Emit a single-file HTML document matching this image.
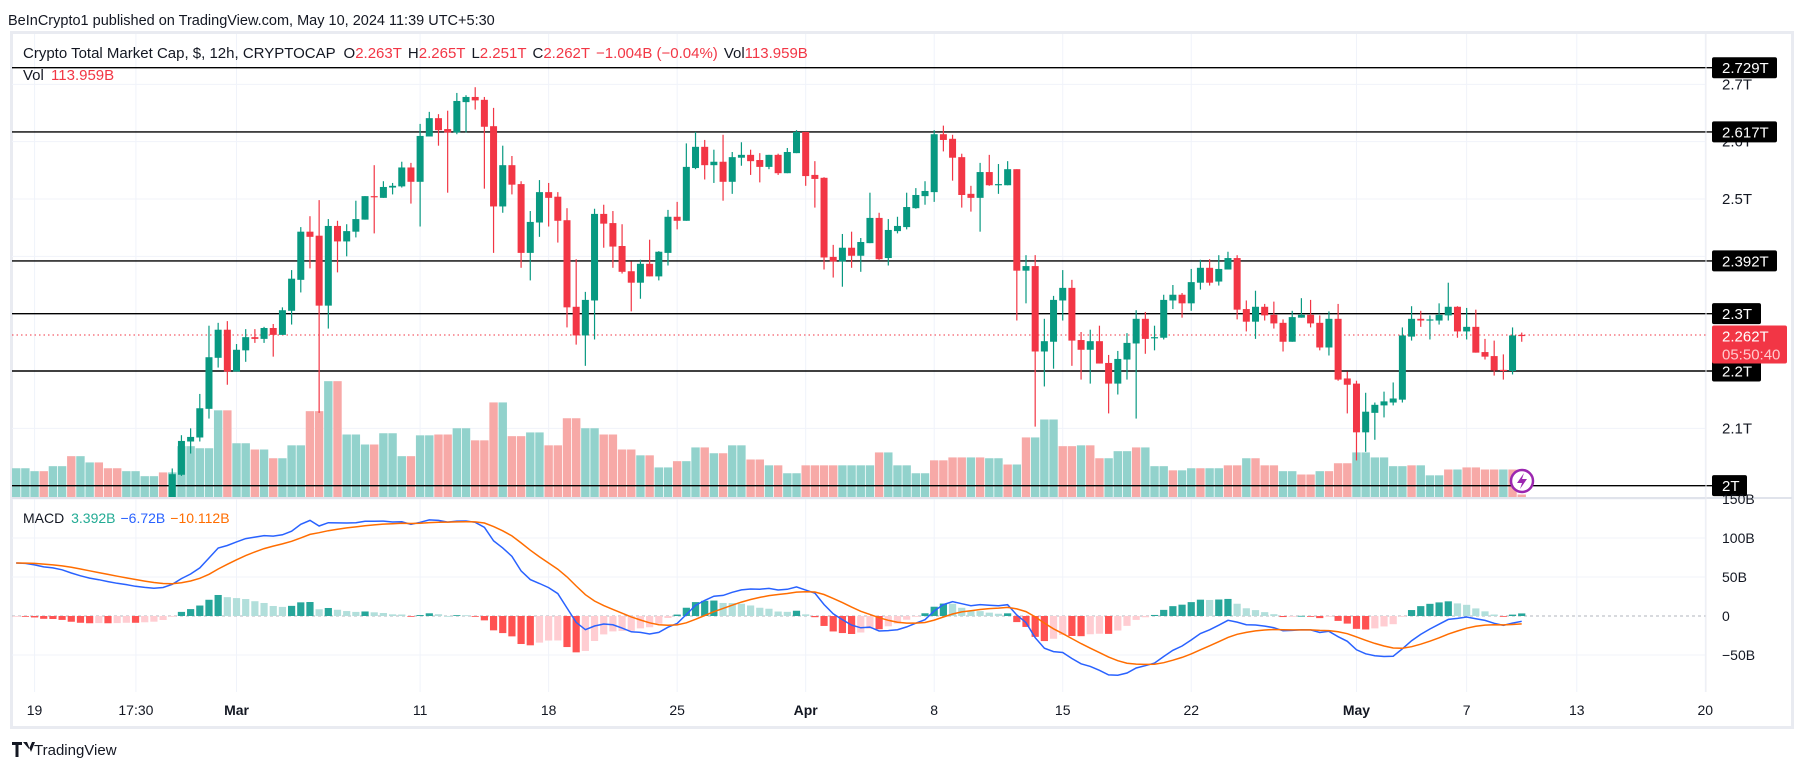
<!DOCTYPE html>
<html><head><meta charset="utf-8"><style>
html,body{margin:0;padding:0;background:#fff;}
svg{display:block;font-family:"Liberation Sans",sans-serif;}
</style></head><body>
<svg id="chart" width="1805" height="771" viewBox="0 0 1805 771" xmlns="http://www.w3.org/2000/svg">
<defs>
<clipPath id="pricePane"><rect x="12" y="34" width="1694" height="463"/></clipPath>
<clipPath id="macdPane"><rect x="12" y="499" width="1694" height="193"/></clipPath>
</defs>
<text x="8" y="25" font-size="14.5" fill="#131722">BeInCrypto1 published on TradingView.com, May 10, 2024 11:39 UTC+5:30</text>
<rect x="11.5" y="32.5" width="1781" height="695" fill="#fff" stroke="#e9ebf1" stroke-width="3"/>
<g id="grid"></g>
<g id="volume" clip-path="url(#pricePane)"></g>
<g id="levels"></g>
<line x1="12" x2="1706" y1="335" y2="335" stroke="#f23645" stroke-width="1" stroke-dasharray="1.5,3"/>
<g id="candles" clip-path="url(#pricePane)"></g>
<g id="macd" clip-path="url(#macdPane)"></g>
<line x1="12" x2="1792" y1="498" y2="498" stroke="#e0e3eb" stroke-width="2"/>
<line x1="1706" x2="1706" y1="34" y2="692" stroke="#eceef2" stroke-width="1"/>
<g id="axis"></g>
<g id="time"></g>
<text x="23" y="58" font-size="15" fill="#131722">Crypto Total Market Cap, $, 12h, CRYPTOCAP <tspan dx="4">O</tspan><tspan fill="#f23645">2.263T</tspan><tspan dx="6">H</tspan><tspan fill="#f23645">2.265T</tspan><tspan dx="6">L</tspan><tspan fill="#f23645">2.251T</tspan><tspan dx="6">C</tspan><tspan fill="#f23645">2.262T</tspan><tspan dx="6" fill="#f23645">−1.004B (−0.04%)</tspan><tspan dx="6">Vol</tspan><tspan fill="#f23645">113.959B</tspan></text>
<text x="23" y="80" font-size="15" fill="#131722">Vol <tspan fill="#f23645" dx="3">113.959B</tspan></text>
<text x="23" y="523" font-size="14" fill="#131722">MACD <tspan fill="#22ab94" dx="3">3.392B</tspan><tspan fill="#2962ff" dx="5">−6.72B</tspan><tspan fill="#ff6d00" dx="5">−10.112B</tspan></text>
<g><circle cx="1522" cy="481" r="11" fill="#fff" stroke="#9c27b0" stroke-width="2.5"/><path d="M1524 473 L1517 483 L1522 483 L1520 489 L1527 479 L1522 479 Z" fill="#9c27b0"/></g>
<g><path d="M12 742 h10 v3 h-3.5 v12 h-3 v-12 h-3.5 Z M23 742 h4 l4 10 l4-10 h-3 l-3 7 Z" fill="#131722"/><text x="34" y="755" font-size="15" fill="#131722">TradingView</text></g>
</svg>
<script>
const openP=[1.925,1.93,1.935,1.925,1.92,1.94,1.93,1.91,1.915,1.92,1.93,1.925,1.93,1.935,1.93,1.94,1.945,1.972,2.019,2.077,2.084,2.134,2.223,2.272,2.199,2.236,2.259,2.256,2.275,2.263,2.305,2.359,2.443,2.436,2.314,2.453,2.426,2.443,2.464,2.505,2.502,2.520,2.522,2.555,2.530,2.609,2.641,2.622,2.616,2.669,2.678,2.673,2.627,2.487,2.559,2.526,2.406,2.459,2.512,2.504,2.463,2.312,2.262,2.323,2.474,2.458,2.418,2.374,2.354,2.387,2.365,2.406,2.469,2.462,2.554,2.591,2.559,2.565,2.530,2.572,2.577,2.568,2.556,2.577,2.545,2.580,2.617,2.542,2.537,2.399,2.391,2.415,2.401,2.423,2.467,2.397,2.444,2.451,2.484,2.505,2.512,2.613,2.605,2.573,2.509,2.502,2.547,2.525,2.524,2.552,2.375,2.383,2.234,2.251,2.323,2.345,2.254,2.237,2.252,2.214,2.178,2.220,2.248,2.291,2.258,2.258,2.323,2.333,2.318,2.354,2.380,2.356,2.377,2.397,2.308,2.286,2.312,2.298,2.284,2.251,2.293,2.298,2.284,2.241,2.291,2.187,2.178,2.093,2.127,2.140,2.145,2.150,2.260,2.291,2.288,2.288,2.297,2.312,2.269,2.277,2.233,2.226,2.202,2.200,2.263];
const highP=[1.94,1.945,1.94,1.93,1.95,1.945,1.935,1.925,1.93,1.94,1.935,1.94,1.945,1.94,1.95,1.955,1.975,2.030,2.088,2.100,2.160,2.279,2.284,2.287,2.247,2.273,2.273,2.277,2.282,2.311,2.376,2.451,2.470,2.498,2.465,2.462,2.456,2.497,2.505,2.559,2.531,2.528,2.565,2.563,2.631,2.652,2.648,2.654,2.685,2.681,2.695,2.678,2.659,2.593,2.575,2.531,2.479,2.533,2.528,2.512,2.484,2.395,2.338,2.483,2.490,2.479,2.456,2.391,2.394,2.429,2.409,2.481,2.495,2.597,2.617,2.603,2.586,2.612,2.582,2.599,2.586,2.580,2.577,2.579,2.589,2.620,2.617,2.566,2.538,2.420,2.439,2.443,2.432,2.511,2.476,2.465,2.469,2.511,2.519,2.531,2.620,2.628,2.612,2.579,2.523,2.563,2.577,2.561,2.566,2.552,2.402,2.402,2.291,2.331,2.376,2.359,2.268,2.272,2.279,2.228,2.235,2.266,2.306,2.303,2.279,2.333,2.350,2.336,2.378,2.394,2.395,2.402,2.408,2.402,2.323,2.340,2.317,2.321,2.290,2.305,2.327,2.324,2.297,2.304,2.317,2.199,2.183,2.162,2.145,2.164,2.180,2.276,2.313,2.305,2.297,2.318,2.354,2.313,2.310,2.307,2.256,2.253,2.229,2.276,2.267];
const lowP=[1.92,1.925,1.915,1.91,1.915,1.925,1.905,1.90,1.91,1.915,1.92,1.92,1.925,1.92,1.925,1.935,1.94,1.969,2.017,2.056,2.077,2.117,2.206,2.176,2.199,2.216,2.249,2.249,2.225,2.263,2.281,2.337,2.379,2.127,2.274,2.372,2.400,2.433,2.464,2.440,2.502,2.508,2.520,2.492,2.452,2.609,2.593,2.511,2.613,2.616,2.656,2.518,2.406,2.476,2.508,2.380,2.358,2.434,2.452,2.424,2.276,2.246,2.209,2.255,2.415,2.380,2.370,2.304,2.326,2.365,2.358,2.384,2.447,2.462,2.552,2.534,2.528,2.497,2.509,2.558,2.542,2.529,2.552,2.542,2.545,2.580,2.523,2.485,2.377,2.363,2.347,2.380,2.373,2.423,2.394,2.384,2.440,2.447,2.483,2.490,2.495,2.583,2.532,2.485,2.478,2.443,2.523,2.509,2.524,2.288,2.318,2.103,2.173,2.204,2.288,2.209,2.185,2.178,2.213,2.126,2.159,2.185,2.117,2.230,2.236,2.255,2.308,2.293,2.305,2.342,2.349,2.349,2.377,2.290,2.269,2.256,2.288,2.274,2.234,2.251,2.293,2.276,2.236,2.227,2.183,2.126,2.044,2.059,2.080,2.119,2.140,2.145,2.253,2.277,2.255,2.281,2.288,2.258,2.255,2.232,2.220,2.192,2.185,2.194,2.251];
const closeP=[1.93,1.935,1.925,1.92,1.94,1.93,1.91,1.915,1.92,1.93,1.925,1.93,1.935,1.93,1.94,1.945,1.972,2.020,2.078,2.085,2.135,2.224,2.272,2.199,2.237,2.259,2.256,2.275,2.263,2.306,2.361,2.443,2.434,2.314,2.453,2.426,2.444,2.465,2.505,2.504,2.521,2.523,2.555,2.530,2.610,2.641,2.620,2.616,2.671,2.678,2.672,2.626,2.487,2.559,2.525,2.406,2.460,2.512,2.502,2.462,2.311,2.262,2.324,2.474,2.457,2.417,2.373,2.354,2.387,2.365,2.408,2.469,2.462,2.556,2.591,2.559,2.565,2.530,2.573,2.577,2.566,2.556,2.577,2.545,2.582,2.617,2.540,2.535,2.398,2.391,2.415,2.401,2.425,2.467,2.395,2.446,2.453,2.486,2.507,2.514,2.613,2.603,2.572,2.507,2.502,2.547,2.524,2.526,2.552,2.375,2.383,2.234,2.252,2.324,2.345,2.253,2.237,2.252,2.213,2.178,2.221,2.249,2.291,2.256,2.259,2.324,2.333,2.318,2.355,2.380,2.354,2.378,2.397,2.307,2.286,2.312,2.297,2.283,2.251,2.294,2.298,2.283,2.241,2.291,2.185,2.176,2.093,2.129,2.141,2.147,2.152,2.262,2.291,2.288,2.290,2.298,2.312,2.269,2.277,2.232,2.225,2.201,2.201,2.262,2.262];
const volumeB=[69,69,62,62,74,74,98,98,83,83,69,69,62,62,50,50,59,59,122,122,117,117,208,208,129,129,114,114,93,93,124,124,206,206,278,278,150,150,126,126,153,153,98,98,148,148,150,150,165,165,136,136,227,227,146,146,155,155,124,124,189,189,165,165,150,150,114,114,100,100,71,71,86,86,119,119,105,105,124,124,90,90,76,76,57,57,76,76,76,76,76,76,76,76,107,107,76,76,57,57,88,88,95,95,95,95,93,93,78,78,143,143,186,186,122,122,124,124,93,93,110,110,119,119,74,74,64,64,69,69,69,69,76,76,93,93,76,76,62,62,54,54,62,62,81,81,107,107,95,95,74,74,76,76,52,52,66,66,71,71,66,66,66,66,6];
const volumeDir="gggrggrggrrrggggrggggggrggrgrgggrrgrgggrgggrggrrggrrrgrrggrrrrggrrrrgrggrggrgrggrrgrggrrrrggggrgggggrrrrgrggrgrgggrrgrrgggrgggrggrggrrgrrrggrrgrrrggggggrgggrgrrrrgr".split("");
const levelValues=[2.729,2.617,2.392,2.3,2.2,2.0];
const levelLabels=["2.729T","2.617T","2.392T","2.3T","2.2T","2T"];
const priceTicks=[2.1,2.2,2.3,2.4,2.5,2.6,2.7];
const priceTickLabels=["2.1T","2.2T","2.3T","2.4T","2.5T","2.6T","2.7T"];
const macdTicks=[150,100,50,0,-50];
const macdTickLabels=["150B","100B","50B","0","−50B"];
const timeTickDays=[1,6.52,12,22,29,36,43,50,57,64,73,79,85,92];
const timeTickLabels=["19","17:30","Mar","11","18","25","Apr","8","15","22","May","7","13","20"];
const timeTickBold=[0,0,1,0,0,0,1,0,0,0,1,0,0,0];
const macdSeed={ema12:1.868,ema26:1.80,signal:0.068};

const NS="http://www.w3.org/2000/svg";
function mk(tag,attrs,parent){const e=document.createElementNS(NS,tag);for(const k in attrs)e.setAttribute(k,attrs[k]);parent.appendChild(e);return e;}
const xDay=d=>16.2+d*18.36;
const xIdx=i=>xDay(i/2);
const yP=p=>199+(2.5-p)*573.3;
const yV=v=>497-v/2.4;
const yM=b=>616-b*0.78;
const G=id=>document.getElementById(id);

const grid=G("grid");
priceTicks.forEach(p=>{const l=mk("line",{x1:12,x2:1706,y1:yP(p),y2:yP(p),stroke:"#f0f3fa","stroke-width":1},grid);

});
macdTicks.forEach(b=>{if(b===0)return;const l=mk("line",{x1:12,x2:1706,y1:yM(b),y2:yM(b),stroke:"#f0f3fa","stroke-width":1},grid);

});
timeTickDays.forEach(d=>{const l=mk("line",{x1:xDay(d),x2:xDay(d),y1:34,y2:692,stroke:"#f0f3fa","stroke-width":1},grid);

});

const vg=G("volume");
volumeB.forEach((v,i)=>{const r=mk("rect",{x:xIdx(i)-4.2,y:yV(v),width:8.4,height:497-yV(v),fill:volumeDir[i]==="g"?"#92d2cc":"#f7a9a7"},vg);

});

const cg=G("candles");
closeP.forEach((c,i)=>{const o=openP[i],up=c>=o,col=up?"#089981":"#f23645",x=xIdx(i);
const w=mk("line",{x1:x,x2:x,y1:yP(highP[i]),y2:yP(lowP[i]),stroke:col,"stroke-width":1.2},cg);


const top=yP(Math.max(o,c)),bot=yP(Math.min(o,c));
const b=mk("rect",{x:x-3.5,y:top,width:7,height:Math.max(1.2,bot-top),fill:col},cg);

});

const lg=G("levels"),ax=G("axis");
priceTicks.forEach((p,k)=>{const t=mk("text",{x:1722,y:yP(p)+5,"font-size":15,fill:"#131722"},ax);t.textContent=priceTickLabels[k];

});
levelValues.forEach((p,k)=>{const y=yP(p);
const l=mk("line",{x1:12,x2:1712,y1:y,y2:y,stroke:"#000","stroke-width":1.4},lg);


const w=levelLabels[k].length>4?65:(levelLabels[k].length>2?49:35);
const r=mk("rect",{x:1712,y:y-10.5,width:w,height:21,rx:2,fill:"#000"},ax);


const t=mk("text",{x:1722,y:y+5.5,"font-size":15,fill:"#fff"},ax);t.textContent=levelLabels[k];

});
const lastIdx=closeP.length-1;
const lp=closeP[lastIdx],ly=yP(lp);
const pr=mk("rect",{x:1712,y:ly-10,width:75,height:38,rx:2,fill:"#f23645"},ax);


const pt=mk("text",{x:1722,y:ly+6,"font-size":15,fill:"#fff"},ax);pt.textContent=lp.toFixed(3)+"T";


const ct=mk("text",{x:1722,y:ly+24,"font-size":15,fill:"#ffc9cd"},ax);ct.textContent="05:50:40";


macdTicks.forEach((b,k)=>{const t=mk("text",{x:1722,y:yM(b)+5,"font-size":14,fill:"#131722"},ax);t.textContent=macdTickLabels[k];

});

const tg=G("time");
timeTickDays.forEach((d,k)=>{const t=mk("text",{x:xDay(d),y:715,"font-size":14,fill:"#131722","text-anchor":"middle","font-weight":timeTickBold[k]?"bold":"normal"},tg);t.textContent=timeTickLabels[k];

});

const mg=G("macd");
let e12=macdSeed.ema12,e26=macdSeed.ema26,sig=macdSeed.signal;
const macdLine=[],sigLine=[],hist=[];
closeP.forEach(c=>{e12+=(c-e12)*2/13;e26+=(c-e26)*2/27;const m=e12-e26;sig+=(m-sig)*2/10;macdLine.push(m*1000);sigLine.push(sig*1000);hist.push((m-sig)*1000);});
const z=mk("line",{x1:12,x2:1706,y1:yM(0),y2:yM(0),stroke:"#b2b5be","stroke-width":1,"stroke-dasharray":"3,3"},mg);


hist.forEach((h,i)=>{const prev=i>0?hist[i-1]:h;let col;
if(h>=0)col=h>=prev?"#26a69a":"#b2dfdb";else col=h<prev?"#ff5252":"#ffcdd2";
const y1=Math.min(yM(h),yM(0)),y2=Math.max(yM(h),yM(0));
const r=mk("rect",{x:xIdx(i)-3.6,y:y1,width:7.2,height:Math.max(0.8,y2-y1),fill:col},mg);

});
const pathOf=a=>a.map((v,i)=>(i?"L":"M")+xIdx(i).toFixed(1)+" "+yM(v).toFixed(1)).join(" ");
const ml=mk("path",{d:pathOf(macdLine),fill:"none",stroke:"#2962ff","stroke-width":1.5},mg);


const sl=mk("path",{d:pathOf(sigLine),fill:"none",stroke:"#ff6d00","stroke-width":1.5},mg);


</script>
</body></html>
